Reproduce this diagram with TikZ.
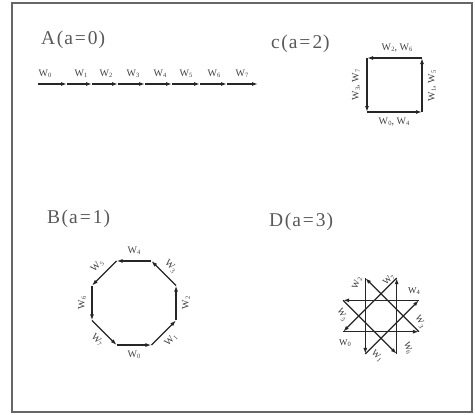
\documentclass[tikz,border=0pt]{standalone}
\usepackage{fontspec}
\setmainfont{Liberation Serif}
\usetikzlibrary{arrows.meta,calc}
\newcommand{\Wsub}[1]{W\kern0.2pt\raisebox{-0.3ex}{\fontsize{6.5}{6.5}\selectfont #1}}
\newcommand{\Ttl}[2]{#1\kern1.5pt(\kern1pt a\kern2pt=\kern2pt#2\kern1pt)}
\begin{document}
\begin{tikzpicture}[x=1pt,y=-1pt,
  vec/.style={line width=1.3pt, draw=black!85, -{Latex[length=6pt,width=4pt]}},
  wlab/.style={font=\fontsize{10}{10}\selectfont, text=black!75, inner sep=0.5pt},
  slab/.style={font=\fontsize{9}{9}\selectfont, text=black!80, inner sep=0.3pt},
  title/.style={font=\fontsize{19.5}{20}\selectfont, text=black!65, inner sep=0, anchor=west}]
\useasboundingbox (0,0) rectangle (475,415);
\draw[black!60, line width=1.3pt] (12,3) rectangle (472,412);

% titles
\node[title] (tA) at (41,40) {\Ttl{A}{0}};
\node[title] (tC) at (271,44) {\Ttl{c}{2}};
\node[title] (tB) at (47,219) {\Ttl{B}{1}};
\node[title] (tD) at (269,222) {\Ttl{D}{3}};

% A: a = 0
\foreach \i/\x in {0/38,1/67,2/92,3/118,4/145,5/172,6/200,7/227,8/258}
  \coordinate (a\i) at (\x,84);
\foreach \i in {0,...,7}{
  \pgfmathtruncatemacro{\j}{\i+1}
  \draw[vec] (a\i) -- (a\j);
}
\foreach \i/\x in {0/45,1/81,2/106,3/133,4/160,5/186,6/214,7/242}
  \node[wlab] (la\i) at (\x,74) {\Wsub{\i}};

% C: a = 2
\coordinate (c1) at (367,112);
\coordinate (c2) at (422,112);
\coordinate (c3) at (422,58);
\coordinate (c4) at (367,58);
\draw[vec] (c1) -- (c2);
\draw[vec] (c2) -- (c3);
\draw[vec] (c3) -- (c4);
\draw[vec] (c4) -- (c1);
\node[wlab] (lc0) at (394,122) {\Wsub{0}, \Wsub{4}};
\node[wlab] (lc1) at (432,86) [rotate=90] {\Wsub{1}, \Wsub{5}};
\node[wlab] (lc2) at (397,48) {\Wsub{2}, \Wsub{6}};
\node[wlab] (lc3) at (356,85) [rotate=90] {\Wsub{3}, \Wsub{7}};

% B: a = 1
\foreach \k in {0,...,7}
  \coordinate (b\k) at ({134+45.5*cos(22.5+45*\k)},{303-45.5*sin(22.5+45*\k)});
\foreach \k/\r in {0/0,1/45,2/90,3/-45,4/0,5/45,6/90,7/-45}{
  \pgfmathtruncatemacro{\s}{mod(5+\k,8)}
  \pgfmathtruncatemacro{\e}{mod(6+\k,8)}
  \draw[vec] (b\s) -- (b\e);
  \node[wlab, rotate=\r] (lb\k) at ({134+52*cos(270+45*\k)},{303-52*sin(270+45*\k)}) {\Wsub{\k}};
}

% D: a = 3
\foreach \k in {0,...,7}
  \coordinate (d\k) at ({381+41*cos(22.5+45*\k)},{316-41*sin(22.5+45*\k)});
\foreach \k in {0,...,7}{
  \pgfmathtruncatemacro{\s}{mod(4+3*\k,8)}
  \pgfmathtruncatemacro{\e}{mod(7+3*\k,8)}
  \draw[vec] (d\s) -- (d\e);
}
\node[slab, rotate=70]  (ld2) at (357,283) {\Wsub{2}};
\node[slab, rotate=45]  (ld7) at (389,280) {\Wsub{7}};
\node[slab]             (ld4) at (414,291) {\Wsub{4}};
\node[slab, rotate=-60] (ld3) at (420,322) {\Wsub{3}};
\node[slab, rotate=-70] (ld6) at (408,348) {\Wsub{6}};
\node[slab, rotate=-45] (ld1) at (377,356) {\Wsub{1}};
\node[slab]             (ld0) at (345,343) {\Wsub{0}};
\node[slab, rotate=-60] (ld5) at (342,315) {\Wsub{5}};
\end{tikzpicture}
\end{document}
